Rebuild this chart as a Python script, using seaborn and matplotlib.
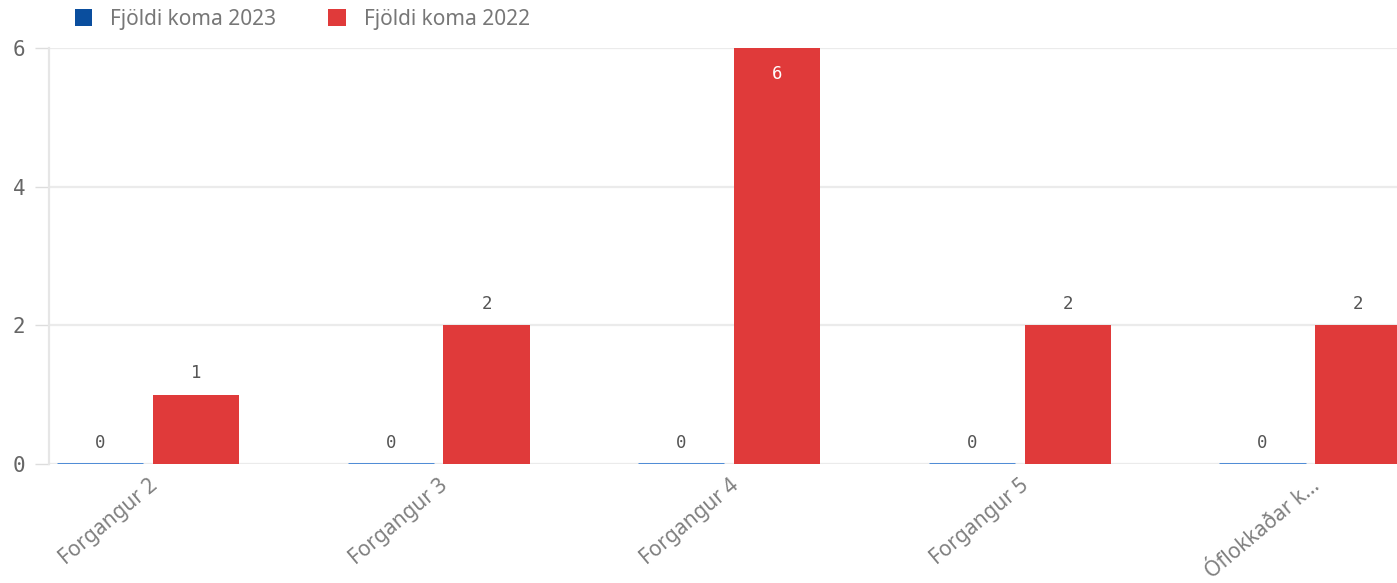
import matplotlib
matplotlib.use("Agg")
import matplotlib.pyplot as plt
import seaborn as sns
import pandas as pd
from matplotlib.patches import Patch

categories = ["Forgangur 2", "Forgangur 3", "Forgangur 4", "Forgangur 5", "Óflokkaðar k..."]
series_names = ["Fjöldi koma 2023", "Fjöldi koma 2022"]
values_2023 = [0, 0, 0, 0, 0]
values_2022 = [1, 2, 6, 2, 2]
y_ticks = [0, 2, 4, 6]

colors = ["#0a4e9e", "#e03a3a"]

df = pd.DataFrame({
    "cat": categories * 2,
    "series": [series_names[0]] * len(categories) + [series_names[1]] * len(categories),
    "val": values_2023 + values_2022,
})

sns.set_theme(style="white")
plt.rcParams["font.family"] = ["Noto Sans", "DejaVu Sans"]

fig = plt.figure(figsize=(13.97, 5.83), dpi=100)
ax = fig.add_axes([49 / 1397, (583 - 464) / 583, 1 - 49 / 1397, (464 - 48) / 583])

sns.barplot(data=df, x="cat", y="val", hue="series", hue_order=series_names,
            palette=colors, width=0.66, gap=0.1, saturation=1, ax=ax,
            legend=False, linewidth=0)

# zero-height bars shown as thin lines along the baseline
for p, v in zip(ax.containers[0], values_2023):
    ax.hlines(p.get_y() + p.get_height(), p.get_x(), p.get_x() + p.get_width(),
              color="#3f82d4", linewidth=2.0, zorder=4)

mono = "DejaVu Sans Mono"
ymax = max(values_2022)
for cont, vals in zip(ax.containers, [values_2023, values_2022]):
    for p, v in zip(cont, vals):
        cx = p.get_x() + p.get_width() / 2
        if v == ymax:
            ax.annotate(str(v), (cx, v), xytext=(0, -12), textcoords="offset points",
                        ha="center", va="top", color="white", fontsize=12.5, family=mono)
        else:
            ax.annotate(str(v), (cx, v), xytext=(0, 9), textcoords="offset points",
                        ha="center", va="bottom", color="#555555", fontsize=12.5, family=mono)

ax.set_xlim(-0.341, 4.298)
ax.set_ylim(0, 6)
ax.set_yticks(y_ticks)
ax.set_yticklabels([str(t) for t in y_ticks], family=mono, fontsize=15, color="#666666")
ax.tick_params(axis="y", length=10, color="#dddddd", width=1, pad=7, left=True)
ax.tick_params(axis="x", length=0, pad=8)
ax.set_xticks(range(len(categories)))
ax.set_xticklabels(categories, rotation=40, ha="right", rotation_mode="anchor",
                   fontsize=15, color="#808080")
ax.set_xlabel("")
ax.set_ylabel("")

ax.grid(axis="y", color="#ebebeb", linewidth=1.6)
ax.set_axisbelow(True)
for s in ["top", "right", "bottom"]:
    ax.spines[s].set_visible(False)
ax.spines["left"].set_color("#e6e6e6")
ax.spines["left"].set_linewidth(1.6)

handles = [Patch(facecolor=c, edgecolor="none") for c in colors]
fig.legend(handles, series_names, loc="upper left", bbox_to_anchor=(0.040, 1.017),
           ncol=2, frameon=False, fontsize=15, handlelength=0.85, handleheight=0.85,
           handletextpad=0.85, columnspacing=2.5, labelcolor="#777777")

fig.savefig("out.png", dpi=100)
